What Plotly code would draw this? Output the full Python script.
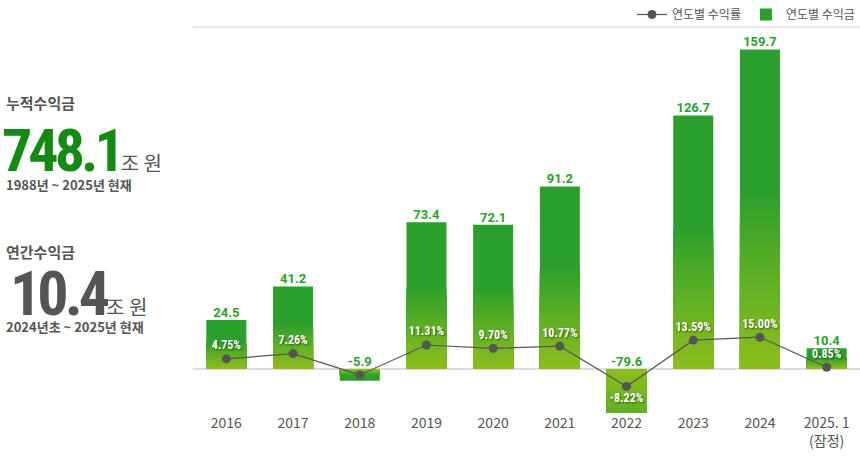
import plotly.graph_objects as go

# ---------------- data ----------------
years = ["2016", "2017", "2018", "2019", "2020", "2021", "2022", "2023", "2024", "2025. 1<br>(잠정)"]
profit = [24.5, 41.2, -5.9, 73.4, 72.1, 91.2, -79.6, 126.7, 159.7, 10.4]          # 연도별 수익금 (조 원)
profit_labels = ["24.5", "41.2", "-5.9", "73.4", "72.1", "91.2", "-79.6", "126.7", "159.7", "10.4"]
yield_rate = [4.75, 7.26, -2.8, 11.31, 9.70, 10.77, -8.22, 13.59, 15.00, 0.85]     # 연도별 수익률 (%)
yield_labels = ["4.75%", "7.26%", "", "11.31%", "9.70%", "10.77%", "-8.22%", "13.59%", "15.00%", "0.85%"]
yield_pos = ["top center"] * 6 + ["bottom center"] + ["top center"] * 3

# ---------------- styling ----------------
GREEN = (43, 159, 44)
YGREEN = (141, 190, 30)
KFONT = "Noto Sans CJK KR, Noto Sans, sans-serif"
W, H = 860, 460
L, R, T, B = 193, 0, 27, 47


def mix(t):
    c = [round(GREEN[i] + (YGREEN[i] - GREEN[i]) * t) for i in range(3)]
    return f"rgb({c[0]},{c[1]},{c[2]})"


def px_x(px):
    return (px - L) / (W - L - R)


def px_y(py):
    return (H - B - py) / (H - T - B)


fig = go.Figure()

# base bars (solid green) - the legend entry
fig.add_trace(go.Bar(
    x=years, y=profit, name="연도별 수익금", marker=dict(color=mix(0), line=dict(width=0)),
    width=0.6, legendrank=2, hoverinfo="skip", yaxis="y",
))

# gradient towards the zero line, built by overlaying shorter bars
N = 22
FR = 0.55
for k in range(1, N + 1):
    f = FR * (N - k + 1) / N
    t = ((k - 0.5) / N) ** 0.9
    fig.add_trace(go.Bar(
        x=years, y=[v * f for v in profit], marker=dict(color=mix(t), line=dict(width=0)),
        width=0.6, showlegend=False, hoverinfo="skip", yaxis="y",
    ))

# bar value labels
fig.add_trace(go.Scatter(
    x=years, y=[max(v, 0) for v in profit], mode="text", text=profit_labels,
    textposition="top center", cliponaxis=False, showlegend=False, hoverinfo="skip",
    textfont=dict(family="Roboto, sans-serif", size=13, color="rgb(43,159,44)", weight="bold"), yaxis="y",
))

# yield line
fig.add_trace(go.Scatter(
    x=years, y=yield_rate, mode="lines+markers+text", name="연도별 수익률",
    line=dict(color="#555555", width=1.2), marker=dict(color="#555555", size=9),
    text=yield_labels, textposition=yield_pos, cliponaxis=False, legendrank=1,
    textfont=dict(family="Roboto Condensed, Roboto, sans-serif", size=12, color="white", weight="bold",
                  shadow="1px 1px 2px rgba(0,0,0,0.55)"),
    hoverinfo="skip", yaxis="y2",
))

BIG = "font-family:Roboto Condensed, Roboto, sans-serif;letter-spacing:-4px"
annotations = [
    dict(text="<b>누적수익금</b>", x=px_x(4), y=px_y(102), font=dict(size=15, color="#555555")),
    dict(text=f"<span style='font-size:60px;color:#148a14;{BIG}'><b>748.1</b></span>"
              "<span style='font-size:20px;color:#555555'>조 원</span>",
         x=px_x(0), y=px_y(150)),
    dict(text="<b>1988년 ~ 2025년 현재</b>", x=px_x(4), y=px_y(184), font=dict(size=13, color="#555555")),
    dict(text="<b>연간수익금</b>", x=px_x(4), y=px_y(251), font=dict(size=15, color="#555555")),
    dict(text=f"<span style='font-size:62px;color:#555555;{BIG}'><b>10.4</b></span>"
              "<span style='font-size:20px;color:#555555'>조 원</span>",
         x=px_x(8), y=px_y(293)),
    dict(text="<b>2024년초 ~ 2025년 현재</b>", x=px_x(4), y=px_y(326), font=dict(size=13, color="#555555")),
]
for a in annotations:
    a.update(xref="paper", yref="paper", xanchor="left", yanchor="middle", showarrow=False)

fig.update_layout(
    width=W, height=H,
    margin=dict(l=L, r=R, t=T, b=B, autoexpand=False),
    paper_bgcolor="white", plot_bgcolor="white",
    barmode="overlay",
    font=dict(family=KFONT, color="#555555"),
    xaxis=dict(type="category", range=[-0.5, len(years) - 0.5], showgrid=False, showline=False, ticks="",
               tickfont=dict(size=14, color="#555555"), fixedrange=True, automargin=False),
    yaxis=dict(range=[-22, 171], showgrid=False, showticklabels=False, ticks="",
               zeroline=True, zerolinecolor="#dddddd", zerolinewidth=1.5, automargin=False),
    yaxis2=dict(range=[-20.75, 161.3], overlaying="y", visible=False),
    legend=dict(orientation="h", x=1, xanchor="right", y=1, yanchor="top", yref="container",
                font=dict(size=12, color="#555555"), bgcolor="rgba(0,0,0,0)",
                itemwidth=30, tracegroupgap=0),
    shapes=[dict(type="line", xref="paper", yref="paper", x0=0, x1=1, y0=1, y1=1,
                 line=dict(color="#e8e8e8", width=2))],
    annotations=annotations,
)

fig.write_html("out.html", config={"displayModeBar": False},
               post_script="document.body.style.margin='0';document.body.style.overflow='hidden';")
